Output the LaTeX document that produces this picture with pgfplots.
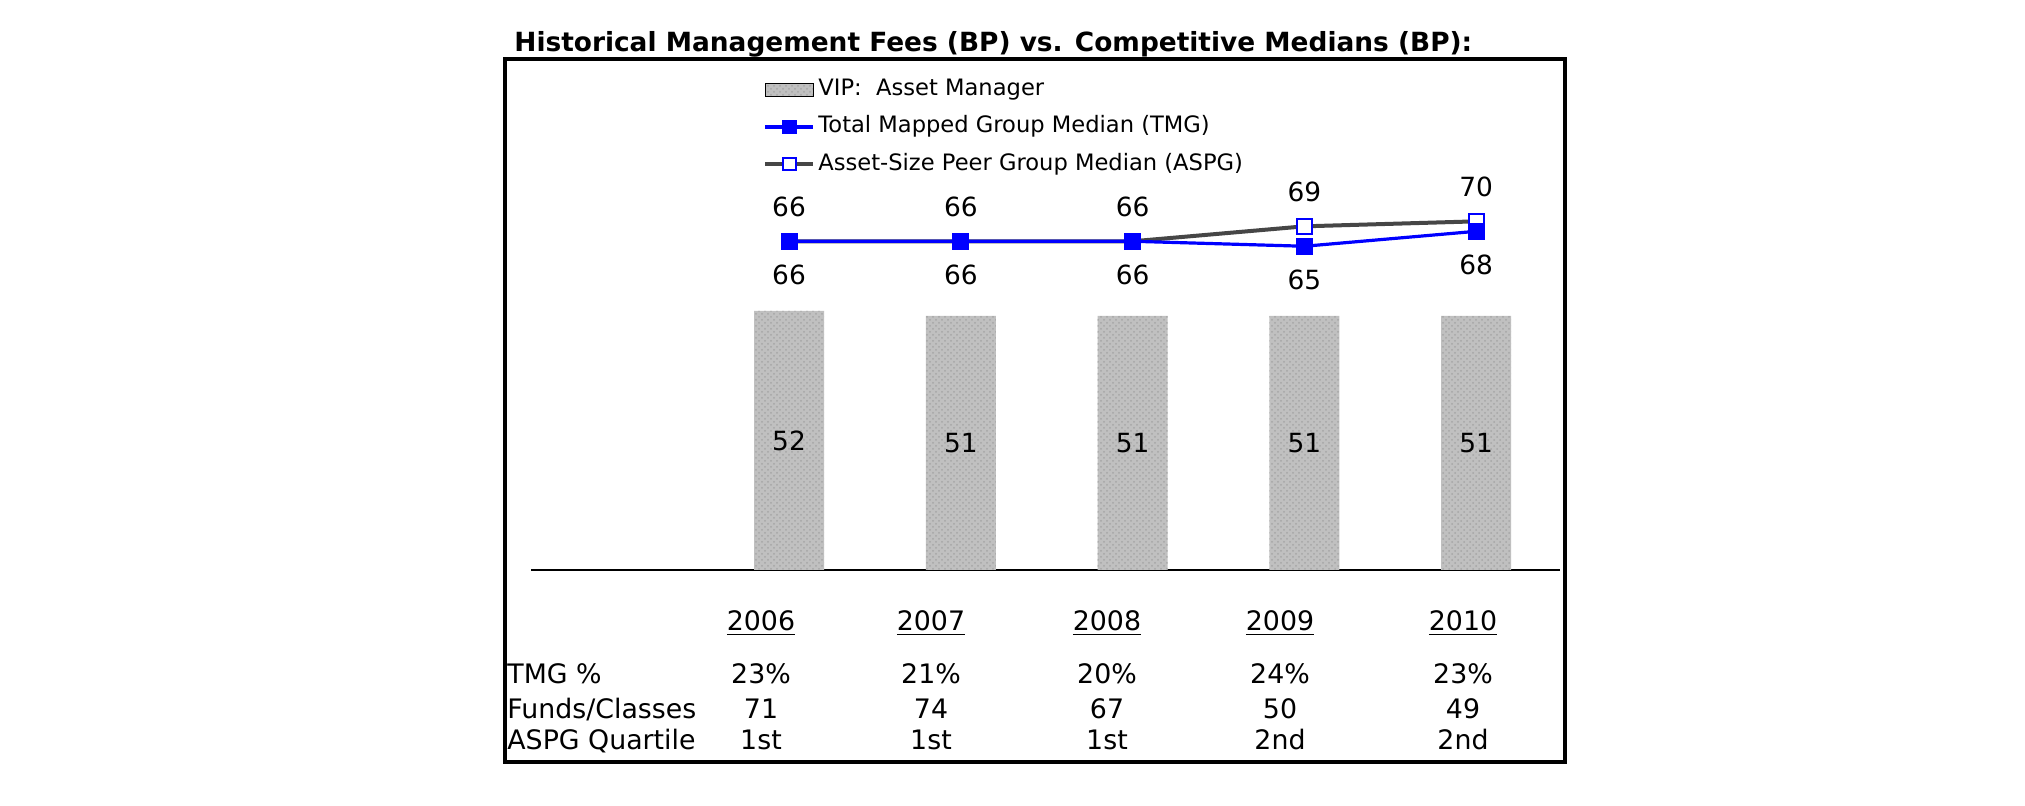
\documentclass[border=0pt]{standalone}
\usepackage{fontspec}
\setmainfont{DejaVu Sans}
\usepackage{pgfplots}
\pgfplotsset{compat=1.18}
\usetikzlibrary{patterns}
\definecolor{barfill}{RGB}{192,192,192}
\definecolor{aspggray}{RGB}{70,70,70}
\pgfplotsset{
  mylinelegend/.style={legend image code/.code={\draw[mark repeat=2, mark phase=2, ##1] plot coordinates {(0pt,0pt) (12pt,0pt) (24pt,0pt)};}},
  mybarlegend/.style={legend image code/.code={\fill[barfill] (0pt,-3.3pt) rectangle (24pt,3.3pt); \fill[pattern=crosshatch dots, pattern color=gray!70] (0pt,-3.3pt) rectangle (24pt,3.3pt);}},
}
\begin{document}
\begin{tikzpicture}[x=0.5pt,y=0.5pt]
\path[use as bounding box] (0,0) rectangle (2025,806);
\draw[line width=1.8pt] (505,44) rectangle (1565,747);
\node[anchor=base west, font=\bfseries\fontsize{13.2}{15}\selectfont, inner sep=0pt] at (514,754) {Historical Management Fees (BP) vs. Competitive Medians (BP):};
\begin{axis}[
  at={(265.5pt,118pt)}, anchor=south west,
  scale only axis, width=514.5pt, height=255.5pt,
  xmin=-1.502, xmax=4.488, ymin=0, ymax=102.6,
  axis x line*=bottom, axis y line=none,
  x axis line style={-, line width=1.2pt},
  xtick=\empty, ytick=\empty,
  clip=false,
  /pgf/number format/assume math mode=true,
  legend style={at={(0.2255,0.97)}, anchor=north west, draw=none, fill=none,
    font=\fontsize{11.3}{13}\selectfont, inner sep=0pt,
    nodes={text height=9pt, text depth=3pt, inner sep=1.5pt},
    row sep=3.6pt},
  legend cell align=left,
]
\addplot[ybar, bar width=35pt, fill=barfill, draw=none,
  postaction={pattern=crosshatch dots, pattern color=gray!70},
  nodes near coords,
  visualization depends on={y \as \rawy},
  every node near coord/.append style={anchor=center, font=\fontsize{13.2}{15}\selectfont,
     shift={(axis direction cs:0,-\rawy/2)}},
  forget plot]
  coordinates {(0,52) (1,51) (2,51) (3,51) (4,51)};
\addplot[color=aspggray, line width=2pt, mark=square*,
  mark options={draw=blue, fill=white, line width=1pt}, mark size=3.7pt,
  nodes near coords,
  every node near coord/.append style={anchor=center, yshift=17pt, text=black, font=\fontsize{13.2}{15}\selectfont},
  forget plot]
  coordinates {(0,66) (1,66) (2,66) (3,69) (4,70)};
\addplot[color=blue, line width=1.6pt, mark=square*,
  mark options={draw=blue, fill=blue, line width=0.5pt}, mark size=4pt,
  nodes near coords,
  every node near coord/.append style={anchor=center, yshift=-17pt, text=black, font=\fontsize{13.2}{15}\selectfont},
  forget plot]
  coordinates {(0,66) (1,66) (2,66) (3,65) (4,68)};
\addlegendimage{mybarlegend}
\addlegendentry{VIP:\ \ Asset Manager}
\addlegendimage{mylinelegend, color=blue, line width=1.6pt, mark=square*, mark options={fill=blue, line width=0.5pt}, mark size=3.4pt}
\addlegendentry{Total Mapped Group Median (TMG)}
\addlegendimage{mylinelegend, color=aspggray, line width=2pt, mark=square*, mark options={draw=blue, fill=white, line width=1pt}, mark size=3.1pt}
\addlegendentry{Asset-Size Peer Group Median (ASPG)}
\end{axis}
\begin{scope}[every node/.style={anchor=base, inner sep=0pt, font=\fontsize{13.4}{15}\selectfont}]
\node at (761,175) {\underline{2006}};
\node at (931,175) {\underline{2007}};
\node at (1107,175) {\underline{2008}};
\node at (1280,175) {\underline{2009}};
\node at (1463,175) {\underline{2010}};
\node[anchor=base west] at (507,122) {TMG \%};
\node at (761,122) {23\%};
\node at (931,122) {21\%};
\node at (1107,122) {20\%};
\node at (1280,122) {24\%};
\node at (1463,122) {23\%};
\node[anchor=base west] at (507,87) {Funds/Classes};
\node at (761,87) {71};
\node at (931,87) {74};
\node at (1107,87) {67};
\node at (1280,87) {50};
\node at (1463,87) {49};
\node[anchor=base west] at (507,56) {ASPG Quartile};
\node at (761,56) {1st};
\node at (931,56) {1st};
\node at (1107,56) {1st};
\node at (1280,56) {2nd};
\node at (1463,56) {2nd};
\end{scope}
\end{tikzpicture}
\end{document}
